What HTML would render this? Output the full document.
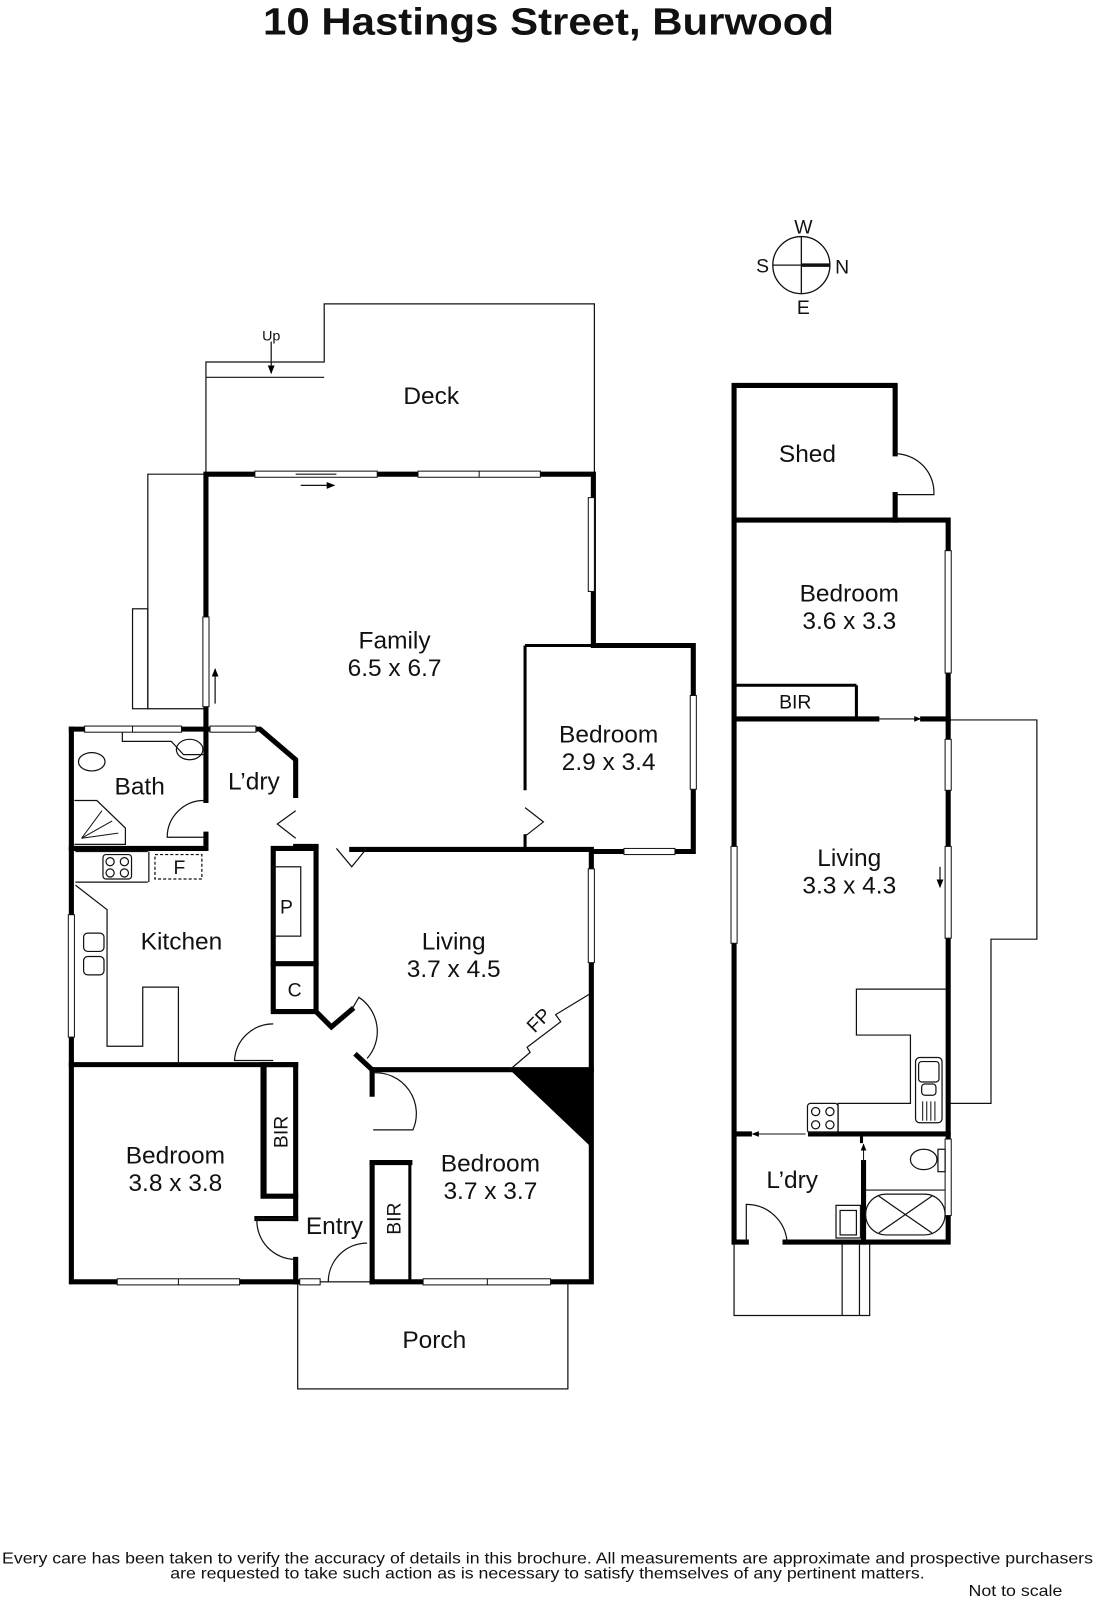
<!DOCTYPE html>
<html><head><meta charset="utf-8"><style>
html,body{margin:0;padding:0;background:#fff;}
svg{display:block;}
text{font-family:"Liberation Sans",sans-serif;fill:#111;}
</style></head><body>
<svg width="1096" height="1600" viewBox="0 0 1075 1569" preserveAspectRatio="none" xmlns="http://www.w3.org/2000/svg">
<defs>
<marker id="ah" viewBox="0 0 10 10" refX="9" refY="5" markerWidth="7" markerHeight="7" orient="auto"><path d="M0,1 L10,5 L0,9z" fill="#000"/></marker>
</defs>
<text x="538" y="34" text-anchor="middle" font-size="37" font-weight="bold" textLength="560" lengthAdjust="spacingAndGlyphs">10 Hastings Street, Burwood</text>

<g stroke="#111" fill="none" stroke-width="1.3">
<circle cx="786" cy="260" r="28"/>
<line x1="758" y1="260" x2="814" y2="260"/>
<line x1="786" y1="232" x2="786" y2="288"/>
<line x1="786" y1="260" x2="814" y2="260" stroke-width="3.5"/>
</g>
<text x="788" y="229" font-size="19" text-anchor="middle">W</text>
<text x="748" y="267" font-size="19" text-anchor="middle">S</text>
<text x="826" y="268" font-size="19" text-anchor="middle">N</text>
<text x="788" y="308" font-size="19" text-anchor="middle">E</text>

<g stroke="#111" fill="none" stroke-width="1.2">
<polyline points="202,465 202,355 318,355 318,298 583,298 583,465"/>
<line x1="202" y1="370" x2="318" y2="370"/>
<polyline points="202,465 145,465 145,695 202,695"/>
<rect x="130" y="597" width="15" height="98"/>
<rect x="292" y="1257" width="265" height="105"/>
<polyline points="930,706 1017,706 1017,921 972,921 972,1082 930,1082"/>
<polyline points="720,1218 720,1290 853,1290 853,1218"/>
<line x1="826" y1="1218" x2="826" y2="1290"/><line x1="843" y1="1218" x2="843" y2="1290"/>
</g>
<line x1="266" y1="335" x2="266" y2="366" stroke="#111" stroke-width="1.2" marker-end="url(#ah)"/>
<text x="266" y="334" font-size="14" text-anchor="middle">Up</text>

<g stroke="#000" fill="none" stroke-width="5" stroke-linecap="square">
<polyline points="202,715 202,465 582,465 582,633 680,633 680,835 582,835"/>
<polyline points="70,715 202,715 255,715 290,745 290,780"/>
<polyline points="70,715 70,1257 292,1257"/>
<polyline points="365,1257 580,1257 580,835"/>
<line x1="345" y1="833" x2="580" y2="833"/>
<line x1="290" y1="830" x2="310" y2="830"/>
<line x1="70" y1="832" x2="202" y2="832"/>
<line x1="202" y1="715" x2="202" y2="785"/>
<line x1="202" y1="818" x2="202" y2="832"/>
<line x1="70" y1="1044" x2="290" y2="1044"/>
<polyline points="268,832 310,832 310,992 268,992 268,832"/>
<line x1="268" y1="945" x2="310" y2="945"/>
<polyline points="310,992 325,1007 345,990"/>
<polyline points="258,1044 290,1044 290,1173 258,1173 258,1044"/>
<line x1="290" y1="1173" x2="290" y2="1195"/>
<line x1="290" y1="1235" x2="290" y2="1257"/>
<line x1="365" y1="1049" x2="580" y2="1049"/>
<line x1="365" y1="1049" x2="365" y2="1073"/>
<line x1="365" y1="1140" x2="365" y2="1257"/>
<polyline points="365,1140 402,1140"/>
<line x1="252" y1="1195" x2="290" y2="1195"/>
<line x1="350" y1="1035" x2="365" y2="1049"/>
<polyline points="720,510 720,378 878,378 878,445"/>
<line x1="878" y1="485" x2="878" y2="510"/>
<polyline points="720,510 930,510 930,1218 770,1218"/>
<polyline points="720,510 720,1218 732,1218"/>
<line x1="720" y1="705" x2="860" y2="705"/>
<line x1="905" y1="705" x2="930" y2="705"/>
<line x1="720" y1="1112" x2="735" y2="1112"/>
<line x1="795" y1="1112" x2="930" y2="1112"/>
<line x1="847" y1="1140" x2="847" y2="1218"/>
</g>
<g stroke="#000" fill="none" stroke-width="3">
<line x1="515" y1="633" x2="582" y2="633"/>
<line x1="515" y1="633" x2="515" y2="775"/>
<line x1="515" y1="818" x2="515" y2="833"/>
<line x1="840" y1="672" x2="840" y2="705"/>
<line x1="722" y1="672" x2="840" y2="672"/>
<line x1="402" y1="1140" x2="402" y2="1257"/>
<line x1="260" y1="1044" x2="260" y2="1173"/>
</g>
<line x1="845" y1="1112" x2="845" y2="1121" stroke="#000" stroke-width="3"/>
<polygon points="500,1049 580,1049 580,1125" fill="#000"/>

<g fill="#fff" stroke="#111" stroke-width="1">
<rect x="250" y="462" width="120" height="6"/><line x1="290" y1="465" x2="330" y2="465"/>
<rect x="410" y="462" width="120" height="6"/><line x1="470" y1="462" x2="470" y2="468"/>
<rect x="577" y="488" width="6" height="92"/>
<rect x="199" y="605" width="6" height="88"/>
<rect x="677" y="682" width="6" height="92"/>
<rect x="83" y="712" width="95" height="6"/><line x1="130" y1="712" x2="130" y2="718"/>
<rect x="206" y="712" width="45" height="6"/>
<rect x="67" y="897" width="6" height="120"/>
<rect x="577" y="852" width="6" height="92"/>
<rect x="612" y="832" width="50" height="6"/>
<rect x="115" y="1254" width="120" height="6"/><line x1="175" y1="1254" x2="175" y2="1260"/>
<rect x="415" y="1254" width="125" height="6"/><line x1="478" y1="1254" x2="478" y2="1260"/>
<rect x="294" y="1254" width="20" height="6"/>
<rect x="927" y="540" width="6" height="120"/>
<rect x="927" y="725" width="6" height="50"/>
<rect x="927" y="830" width="6" height="90"/>
<rect x="717" y="830" width="6" height="95"/>
<rect x="927" y="1117" width="6" height="75"/>
</g>
<line x1="295" y1="476" x2="328" y2="476" stroke="#111" stroke-width="1.2" marker-end="url(#ah)"/>
<line x1="211" y1="690" x2="211" y2="656" stroke="#111" stroke-width="1.2" marker-end="url(#ah)"/>
<line x1="922" y1="850" x2="922" y2="870" stroke="#111" stroke-width="1.2" marker-end="url(#ah)"/>
<line x1="862" y1="705" x2="903" y2="705" stroke="#111" stroke-width="1" marker-end="url(#ah)"/>
<line x1="790" y1="1112" x2="738" y2="1112" stroke="#111" stroke-width="1" marker-end="url(#ah)"/>
<line x1="847" y1="1140" x2="847" y2="1122" stroke="#111" stroke-width="1" marker-end="url(#ah)"/>

<g stroke="#111" fill="none" stroke-width="1.2">
<path d="M200,785 A36,36 0 0 0 164,821 L200,821"/>
<polyline points="290,795 272,808 290,822"/>
<polyline points="330,832 345,850 358,834"/>
<polyline points="515,792 533,806 515,820"/>
<path d="M345,990 L352,978 A40,40 0 0 1 360,1038"/>
<path d="M268,1004 A38,38 0 0 0 230,1040 L268,1040"/>
<path d="M366,1052 A40,40 0 0 1 405,1108 L366,1108"/>
<path d="M290,1195 L252,1195 A38,38 0 0 0 290,1235"/>
<path d="M322,1257 A38,38 0 0 1 360,1219"/>
<path d="M878,445 A38,38 0 0 1 916,485 L878,485"/>
<path d="M732,1218 L732,1181 A40,40 0 0 1 772,1218"/>
<polyline points="120,718 120,727 168,727 180,740 200,740"/>
<ellipse cx="186" cy="735" rx="13" ry="10"/>
<ellipse cx="90" cy="747" rx="13" ry="9"/>
<polyline points="73,785 95,785 123,812 123,828 73,828"/>
<line x1="74" y1="835" x2="145" y2="835"/>
<line x1="74" y1="865" x2="145" y2="865"/>
<line x1="146" y1="835" x2="146" y2="865"/>
<rect x="101" y="838" width="28" height="24" rx="3"/>
<circle cx="108" cy="845" r="4"/><circle cx="122" cy="845" r="4"/><circle cx="108" cy="856" r="4"/><circle cx="122" cy="856" r="4"/>
<rect x="152" y="838" width="46" height="24" stroke-dasharray="3,2"/>
<polyline points="74,868 105,892 105,1026 140,1026 140,968 175,968 175,1044"/>
<rect x="82" y="915" width="20" height="18" rx="4"/><rect x="82" y="938" width="20" height="18" rx="4"/>
<rect x="268" y="850" width="27" height="68"/>
<path d="M500,1049 L520,1032 L517,1027 L550,1002 L545,995 L578,975"/>
<polyline points="928,970 840,970 840,1015 893,1015 893,1082 822,1082 822,1110"/>
<rect x="898" y="1037" width="26" height="64" rx="4"/>
<rect x="901" y="1041" width="20" height="20" rx="3"/><rect x="904" y="1063" width="14" height="11" rx="3"/>
<rect x="792" y="1082" width="30" height="29" rx="3"/>
<circle cx="800" cy="1090" r="4"/><circle cx="814" cy="1090" r="4"/><circle cx="800" cy="1103" r="4"/><circle cx="814" cy="1103" r="4"/>
<ellipse cx="906" cy="1137" rx="13" ry="10"/>
<rect x="920" y="1127" width="7" height="22"/>
<line x1="849" y1="1167" x2="927" y2="1167"/>
<rect x="849" y="1171" width="78" height="40" rx="20"/>
<line x1="862" y1="1173" x2="914" y2="1209"/><line x1="914" y1="1173" x2="862" y2="1209"/>
<rect x="820" y="1182" width="24" height="32"/><rect x="824" y="1187" width="16" height="24"/>
</g>
<g stroke="#111" stroke-width="1">
<line x1="905" y1="1080" x2="905" y2="1099"/><line x1="909" y1="1080" x2="909" y2="1099"/><line x1="913" y1="1080" x2="913" y2="1099"/><line x1="917" y1="1080" x2="917" y2="1099"/>
<line x1="80" y1="822" x2="100" y2="795"/><line x1="80" y1="822" x2="110" y2="805"/><line x1="80" y1="822" x2="116" y2="817"/>
</g>

<g font-size="24" text-anchor="middle">
<text x="423" y="396">Deck</text>
<text x="387" y="636">Family</text><text x="387" y="663">6.5 x 6.7</text>
<text x="597" y="728">Bedroom</text><text x="597" y="755">2.9 x 3.4</text>
<text x="137" y="779">Bath</text>
<text x="249" y="774">L’dry</text>
<text x="178" y="931">Kitchen</text>
<text x="445" y="931">Living</text><text x="445" y="958">3.7 x 4.5</text>
<text x="172" y="1141">Bedroom</text><text x="172" y="1168">3.8 x 3.8</text>
<text x="481" y="1149">Bedroom</text><text x="481" y="1176">3.7 x 3.7</text>
<text x="328" y="1210">Entry</text>
<text x="426" y="1322">Porch</text>
<text x="792" y="453">Shed</text>
<text x="833" y="590">Bedroom</text><text x="833" y="617">3.6 x 3.3</text>
<text x="833" y="849">Living</text><text x="833" y="876">3.3 x 4.3</text>
<text x="777" y="1165">L’dry</text>
</g>
<g font-size="19" text-anchor="middle">
<text x="281" y="896">P</text>
<text x="289" y="977">C</text>
<text x="176" y="857">F</text>
<text x="780" y="695">BIR</text>
<text transform="translate(282,1110) rotate(-90)">BIR</text>
<text transform="translate(393,1195) rotate(-90)">BIR</text>
<text transform="translate(533,1005) rotate(-45)">FP</text>
</g>

<text x="537" y="1533" font-size="15" text-anchor="middle" textLength="1070" lengthAdjust="spacingAndGlyphs">Every care has been taken to verify the accuracy of details in this brochure.  All measurements are approximate and prospective purchasers</text>
<text x="537" y="1548" font-size="15" text-anchor="middle" textLength="740" lengthAdjust="spacingAndGlyphs">are requested to take such action as is necessary to satisfy themselves of any pertinent matters.</text>
<text x="996" y="1565" font-size="15" text-anchor="middle" textLength="92" lengthAdjust="spacingAndGlyphs">Not to scale</text>
</svg>
</body></html>
